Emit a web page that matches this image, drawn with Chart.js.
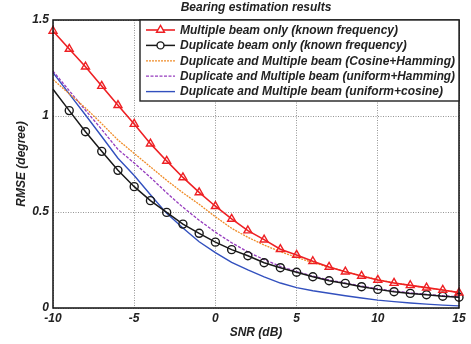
<!DOCTYPE html>
<html>
<head>
<meta charset="utf-8">
<script src="https://cdn.jsdelivr.net/npm/chart.js@4.4.1/dist/chart.umd.min.js"></script>
<style>
  html, body { margin: 0; padding: 0; background: #fff; }
  #wrap { width: 471px; height: 344px; position: relative; }
</style>
</head>
<body>
<div id="wrap"><canvas id="c" width="471" height="344"></canvas></div>
<script>
const chartTitle = "Bearing estimation results";
const xLabel = "SNR (dB)";
const yLabel = "RMSE (degree)";
const snr = [-10,-9,-8,-7,-6,-5,-4,-3,-2,-1,0,1,2,3,4,5,6,7,8,9,10,11,12,13,14,15];
const seriesNames = [
  "Multiple beam only (known frequency)",
  "Duplicate beam only (known frequency)",
  "Duplicate and Multiple beam (Cosine+Hamming)",
  "Duplicate and Multiple beam (uniform+Hamming)",
  "Duplicate and Multiple beam (uniform+cosine)"
];
const multipleOnly = [1.443,1.349,1.257,1.156,1.056,0.958,0.856,0.766,0.680,0.602,0.530,0.464,0.403,0.356,0.306,0.276,0.243,0.214,0.189,0.167,0.146,0.130,0.118,0.106,0.094,0.080];
const duplicateOnly = [1.139,1.028,0.918,0.816,0.717,0.632,0.559,0.498,0.437,0.389,0.343,0.304,0.272,0.236,0.210,0.186,0.163,0.142,0.128,0.111,0.097,0.085,0.076,0.069,0.061,0.056];
const cosHamming = [1.190,1.116,1.042,0.960,0.875,0.805,0.735,0.665,0.600,0.540,0.475,0.415,0.368,0.328,0.293,0.264,0.236,0.213,0.190,0.168,0.148,0.131,0.118,0.105,0.093,0.082];
const uniHamming = [1.234,1.132,1.030,0.930,0.826,0.755,0.680,0.600,0.525,0.457,0.395,0.340,0.292,0.252,0.217,0.190,0.166,0.146,0.130,0.114,0.100,0.088,0.079,0.071,0.064,0.058];
const uniCosine = [1.226,1.115,1.005,0.893,0.780,0.690,0.590,0.493,0.417,0.345,0.288,0.238,0.198,0.162,0.130,0.106,0.090,0.077,0.064,0.052,0.041,0.033,0.026,0.020,0.015,0.011];
const yTicks = [0, 0.5, 1, 1.5];
const xTicks = [-10, -5, 0, 5, 10, 15];

const FONT = "'Liberation Sans', Arial, sans-serif";
const FS = 12;
const pts = arr => arr.map((v, i) => ({x: snr[i], y: v}));

const colors = ['rgb(238,32,36)', 'rgb(25,25,25)', 'rgb(240,140,40)', 'rgb(150,60,190)', 'rgb(50,80,190)'];

const datasets = [
  {label: seriesNames[0], data: pts(multipleOnly), borderColor: colors[0], borderWidth: 1.6,
   pointStyle: 'triangle', pointRadius: 4.6, pointBorderWidth: 1.4, pointBackgroundColor: 'rgba(255,255,255,0)', pointBorderColor: colors[0], order: 1},
  {label: seriesNames[1], data: pts(duplicateOnly), borderColor: colors[1], borderWidth: 1.5,
   pointStyle: 'circle', pointRadius: snr.map((s, i) => i === 0 ? 0 : 4), pointBorderWidth: 1.4, pointBackgroundColor: 'rgba(255,255,255,0)', pointBorderColor: colors[1], order: 2},
  {label: seriesNames[2], data: pts(cosHamming), borderColor: colors[2], borderWidth: 1.3, borderDash: [2, 1],
   pointRadius: 0, order: 3},
  {label: seriesNames[3], data: pts(uniHamming), borderColor: colors[3], borderWidth: 1.3, borderDash: [3, 1.5],
   pointRadius: 0, order: 4},
  {label: seriesNames[4], data: pts(uniCosine), borderColor: colors[4], borderWidth: 1.4,
   pointRadius: 0, order: 5}
];

const PLOT = {left: 53, right: 459, top: 20, bottom: 308};

const decor = {
  id: 'decor',
  afterDraw(chart) {
    const ctx = chart.ctx;
    const a = chart.chartArea;
    ctx.save();
    // frame
    ctx.strokeStyle = '#111';
    ctx.lineWidth = 1.5;
    ctx.setLineDash([]);
    ctx.strokeRect(a.left, a.top, a.right - a.left, a.bottom - a.top);
    // title
    ctx.fillStyle = '#222';
    ctx.font = "italic bold " + FS + "px " + FONT;
    ctx.textAlign = 'center';
    ctx.textBaseline = 'middle';
    ctx.fillText(chartTitle, (a.left + a.right) / 2, 8);
    // legend
    const bx = 140, by = 20, bw = 319, bh = 81;
    ctx.fillStyle = '#fff';
    ctx.fillRect(bx, by, bw, bh);
    ctx.strokeStyle = '#222';
    ctx.lineWidth = 1.4;
    ctx.strokeRect(bx, by, bw, bh);
    const ds = chart.data.datasets;
    ds.forEach((d, i) => {
      const y = 30 + i * 15.4;
      ctx.save();
      ctx.strokeStyle = d.borderColor;
      ctx.lineWidth = d.borderWidth;
      ctx.setLineDash(d.borderDash || []);
      ctx.beginPath();
      ctx.moveTo(146, y);
      ctx.lineTo(175, y);
      ctx.stroke();
      ctx.setLineDash([]);
      if (d.pointStyle === 'triangle' || d.pointStyle === 'circle') {
        ctx.fillStyle = '#fff';
        ctx.strokeStyle = d.pointBorderColor;
        ctx.lineWidth = 1.4;
        Chart.helpers.drawPoint(ctx, {pointStyle: d.pointStyle, radius: d.pointStyle === 'triangle' ? 4.6 : 3.5, borderWidth: 1.4}, 160.5, y);
      }
      ctx.restore();
      ctx.fillStyle = '#222';
      ctx.font = "italic bold " + FS + "px " + FONT;
      ctx.textAlign = 'left';
      ctx.textBaseline = 'middle';
      ctx.fillText(d.label, 180, y + 0.5, 275);
    });
    ctx.restore();
  }
};

const tickFont = {family: FONT, size: FS, style: 'italic', weight: 'bold'};

new Chart(document.getElementById('c'), {
  type: 'line',
  data: {datasets},
  options: {
    responsive: false,
    animation: false,
    layout: {padding: {left: 0, right: 471 - PLOT.right, top: PLOT.top, bottom: 0}},
    plugins: {legend: {display: false}, tooltip: {enabled: false}, title: {display: false}},
    elements: {line: {tension: 0, fill: false}},
    datasets: {line: {clip: false}},
    scales: {
      x: {
        type: 'linear', min: -10, max: 15,
        afterFit(s) { s.height = 344 - PLOT.bottom; },
        afterBuildTicks(s) { s.ticks = xTicks.map(v => ({value: v})); },
        grid: {color: 'rgba(130,130,130,0.85)', lineWidth: 1, drawTicks: false},
        border: {display: false, dash: [1, 1.5]},
        ticks: {padding: 3, color: '#222', font: tickFont, maxRotation: 0, callback: v => String(v)},
        title: {display: true, text: xLabel, color: '#222', padding: {top: 0, bottom: 4}, font: tickFont}
      },
      y: {
        type: 'linear', min: 0, max: 1.5,
        afterFit(s) { s.width = PLOT.left; },
        afterBuildTicks(s) { s.ticks = yTicks.map(v => ({value: v})); },
        grid: {color: 'rgba(130,130,130,0.85)', lineWidth: 1, drawTicks: false},
        border: {display: false, dash: [1, 1.5]},
        ticks: {padding: 4, color: '#222', font: tickFont, callback: v => String(v)},
        title: {display: true, text: yLabel, color: '#222', padding: {top: 14, bottom: 0}, font: tickFont}
      }
    }
  },
  plugins: [decor]
});
</script>
</body>
</html>
